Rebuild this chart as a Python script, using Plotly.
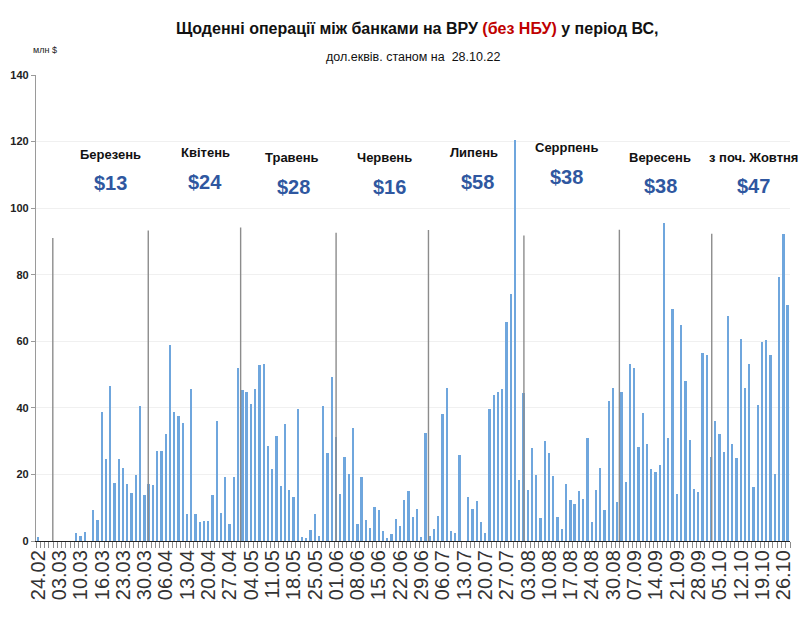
import plotly.graph_objects as go

# ---- data -------------------------------------------------------------
daily_volume = [
    1.1, 0, 0, 0, 0, 0, 0, 0, 0, 2.3,
    1.5, 2.6, 0, 9.3, 6.3, 38.7, 24.5, 46.5, 17.5, 24.6,
    21.9, 17.1, 14.5, 19.9, 40.7, 13.7, 17.1, 16.8, 27, 26.9,
    32.1, 58.8, 38.9, 37.6, 35.4, 8, 45.7, 8, 5.6, 6,
    6, 13.9, 36.2, 8.5, 19.3, 5.2, 19.1, 51.9, 45.5, 44.7,
    41.2, 45.7, 52.8, 53.3, 28.4, 21.6, 31.5, 16.6, 35.1, 15.3,
    13.1, 39.7, 1.3, 1.0, 3.3, 8.1, 1.5, 40.5, 26.5, 49.2,
    31.2, 14, 25.2, 20.2, 33.9, 5, 19.3, 6.3, 4, 10.3,
    9.2, 3.1, 1, 2, 6.6, 4.5, 12.3, 15, 7.2, 9.7,
    1.3, 32.4, 1.6, 3.7, 7.4, 38.2, 45.9, 2.9, 2.3, 25.9,
    0, 13.3, 9.6, 12, 5.7, 2.5, 39.7, 43.9, 44.7, 45.7,
    65.8, 74.2, 120.5, 18.3, 44.5, 15.3, 27.8, 19.8, 6.8, 30.1,
    26.3, 19.5, 7.3, 3.5, 17.2, 12.2, 11.2, 14.9, 12.5, 31,
    5.8, 15.3, 21.9, 9.3, 42.2, 46, 11.6, 44.7, 17.8, 53.2,
    52, 28.2, 38.4, 29.2, 21.6, 20.7, 22.8, 95.6, 30.8, 69.7,
    14.1, 64.8, 48.2, 30.4, 15.5, 14.7, 56.5, 56, 25.3, 36.2,
    32, 26.7, 67.5, 29, 24.8, 60.6, 45.9, 53.2, 16.3, 40.8,
    59.9, 60.3, 56, 20.1, 79.3, 92.3, 70.8,
]

tick_labels = [
    "24.02", "03.03", "10.03", "16.03", "23.03", "30.03", "06.04", "13.04",
    "20.04", "27.04", "04.05", "11.05", "18.05", "25.05", "01.06", "08.06",
    "15.06", "22.06", "29.06", "06.07", "13.07", "20.07", "27.07", "03.08",
    "10.08", "17.08", "24.08", "30.08", "07.09", "14.09", "21.09", "28.09",
    "05.10", "12.10", "19.10", "26.10",
]
label_every = 5

month_starts = ["2022-03-01", "2022-04-01", "2022-05-01", "2022-06-01",
                "2022-07-01", "2022-08-01", "2022-09-01", "2022-10-01"]
month_line_height = [91, 93.3, 94.2, 92.6, 93.4, 91.8, 93.5, 92.3]

month_names = ["Березень", "Квітень", "Травень", "Червень",
               "Липень", "Серрпень", "Вересень", "з поч. Жовтня"]
month_avg = ["$13", "$24", "$28", "$16", "$58", "$38", "$38", "$47"]

# ---- layout helpers (positions, styles) ---------------------------------
SANS = "Liberation Sans, Arial, sans-serif"
BAR_BLUE = "#6FA6DD"
VAL_BLUE = "#2F57A0"

L, R, T, B = 36, 10, 75, 76
PW, PH = 800 - L - R, 617 - T - B


def px(x):
    return (x - L) / PW


def py(y):
    return (617 - B - y) / PH


name_pos = [(110, 154), (205, 152), (292, 157), (384, 157),
            (474, 152), (566, 148), (660, 157), (753, 157)]
val_pos = [(110, 183), (205, 182), (293, 187), (389, 187),
           (477, 182), (566, 177), (660, 186), (753, 186)]

idx = list(range(len(daily_volume)))

fig = go.Figure()
fig.add_trace(go.Bar(
    x=idx, y=daily_volume, width=0.42,
    marker=dict(color=BAR_BLUE, line=dict(width=0)),
    xaxis="x", yaxis="y", showlegend=False,
))

lx, ly = [], []
for d, h in zip(month_starts, month_line_height):
    lx += [d, d, None]
    ly += [0, h, None]
fig.add_trace(go.Scatter(
    x=lx, y=ly, mode="lines", line=dict(color="#8C8C8C", width=1.4),
    xaxis="x2", yaxis="y", showlegend=False, hoverinfo="skip",
))

annotations = []
for nm, (x, y) in zip(month_names, name_pos):
    annotations.append(dict(text="<b>" + nm + "</b>", x=px(x), y=py(y),
                            xref="paper", yref="paper",
                            showarrow=False, xanchor="center", yanchor="middle",
                            font=dict(family=SANS, size=13, color="#111111")))
for v, (x, y) in zip(month_avg, val_pos):
    annotations.append(dict(text="<b>" + v + "</b>", x=px(x), y=py(y),
                            xref="paper", yref="paper",
                            showarrow=False, xanchor="center", yanchor="middle",
                            font=dict(family=SANS, size=20, color=VAL_BLUE)))

annotations.append(dict(
    text="<b>Щоденні операції між банками на ВРУ <span style='color:#C00000'>(без НБУ)</span> у період ВС,</b>",
    x=px(417), y=py(28), xref="paper", yref="paper",
    showarrow=False, xanchor="center", yanchor="middle",
    font=dict(family=SANS, size=16, color="#111111")))
annotations.append(dict(
    text="дол.еквів. станом на  28.10.22",
    x=px(413), y=py(57), xref="paper", yref="paper",
    showarrow=False, xanchor="center", yanchor="middle",
    font=dict(family=SANS, size=12.5, color="#111111")))
annotations.append(dict(
    text="млн $", x=px(45), y=py(50), xref="paper", yref="paper",
    showarrow=False, xanchor="center", yanchor="middle",
    font=dict(family=SANS, size=9, color="#222222")))

fig.update_layout(
    width=800, height=617,
    margin=dict(l=L, r=R, t=T, b=B),
    paper_bgcolor="white", plot_bgcolor="white",
    bargap=0,
    annotations=annotations,
    xaxis=dict(
        range=[-0.5, len(daily_volume) - 0.5],
        automargin=False,
        tickmode="array",
        tickvals=[i * label_every for i in range(len(tick_labels))],
        ticktext=tick_labels,
        tickangle=-90,
        ticks="",
        tickfont=dict(family=SANS, size=20, color="#333333"),
        showline=True, linecolor="#222222", linewidth=1.3,
        showgrid=False, zeroline=False,
        minor=dict(ticks="outside", tickmode="linear", tick0=-0.5, dtick=1,
                   ticklen=6, tickcolor="#8C8C8C", tickwidth=1, showgrid=False),
    ),
    xaxis2=dict(
        type="date", overlaying="x", visible=False,
        range=["2022-02-23 13:00", "2022-10-26 10:00"],
    ),
    yaxis=dict(
        range=[0, 140], dtick=20, tick0=0,
        automargin=False,
        showgrid=True, gridcolor="#F0F0F0", gridwidth=1,
        showline=True, linecolor="#9A9A9A", linewidth=1.3,
        ticks="outside", ticklen=4, tickcolor="#9A9A9A",
        tickfont=dict(family=SANS, size=11, color="#222222"),
        tickprefix="<b>", ticksuffix="</b>",
        zeroline=False,
    ),
)

fig.write_html(
    "out.html",
    config={"displayModeBar": False},
    post_script="document.body.style.margin='0px';document.body.style.overflow='hidden';",
)
